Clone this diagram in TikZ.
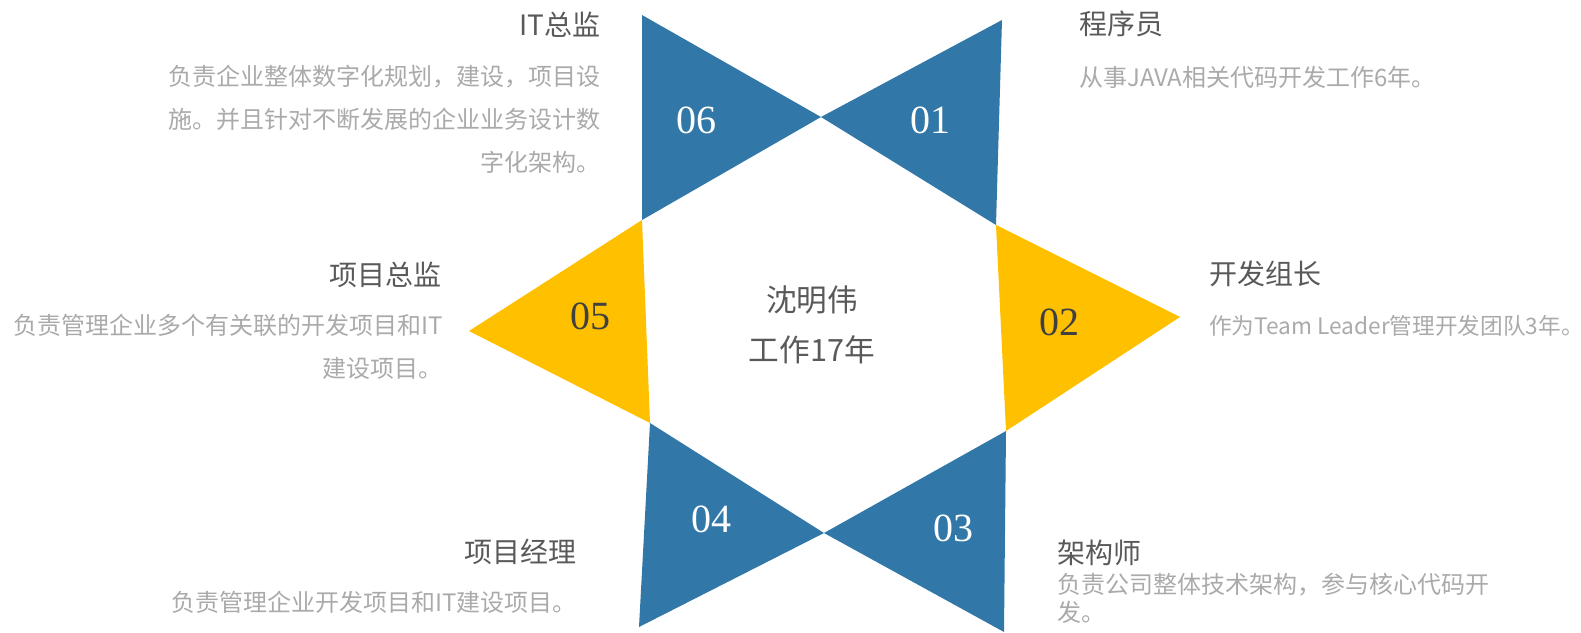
\documentclass[tikz,border=0pt]{standalone}
\usepackage{fontspec}
\setmainfont{Noto Sans CJK SC}
\newfontfamily\numfont{Liberation Serif}

\definecolor{starblue}{RGB}{49,119,168}
\definecolor{staryellow}{RGB}{255,192,0}
\definecolor{titlegray}{RGB}{89,89,89}
\definecolor{descgray}{RGB}{170,170,170}
\definecolor{numgray}{RGB}{64,64,64}

\tikzset{
  jobtitle/.style={text=titlegray, inner sep=0pt, font=\fontsize{21}{25}\selectfont},
  jobdesc/.style={text=descgray, inner sep=0pt, font=\fontsize{18}{32}\selectfont},
  jobnum/.style={inner sep=0pt, font=\numfont\fontsize{30}{30}\selectfont},
}

\begin{document}
\begin{tikzpicture}[x=0.75pt,y=-0.75pt]
\useasboundingbox (0,0) rectangle (1581,632);
% corners of the star
\coordinate (A) at (642,15);
\coordinate (B) at (1002,20);
\coordinate (U) at (821,117);
\coordinate (C) at (642,220);
\coordinate (D) at (996,225);
\coordinate (L) at (469,331);
\coordinate (R) at (1180,317);
\coordinate (E) at (650,423);
\coordinate (F) at (1006,431);
\coordinate (W) at (824,533);
\coordinate (G) at (639,627);
\coordinate (H) at (1004,632);

\fill[starblue] (A) -- (U) -- (C) -- cycle;
\fill[starblue] (B) -- (U) -- (D) -- cycle;
\fill[staryellow] (D) -- (R) -- (F) -- cycle;
\fill[starblue] (F) -- (W) -- (H) -- cycle;
\fill[starblue] (E) -- (W) -- (G) -- cycle;
\fill[staryellow] (C) -- (L) -- (E) -- cycle;

\node[jobnum, text=white] (n06) at (696,120) {06};
\node[jobnum, text=white] (n01) at (930,120) {01};
\node[jobnum, text=numgray] (n02) at (1059,322) {02};
\node[jobnum, text=white] (n03) at (953,528) {03};
\node[jobnum, text=white] (n04) at (711,519) {04};
\node[jobnum, text=numgray] (n05) at (590,316) {05};

\node[text=titlegray, inner sep=0pt, align=center, anchor=base,
  font=\fontsize{23}{37.5}\selectfont] (name) at (812,361) {沈明伟\\工作17年};

% roles
\node[jobtitle, anchor=base east] (t06) at (601,35) {IT总监};
\node[jobdesc, anchor=base east, align=right] (d06) at (601,171)
  {负责企业整体数字化规划，建设，项目设\\施。并且针对不断发展的企业业务设计数\\字化架构。};
\node[jobtitle, anchor=base west] (t01) at (1079,34) {程序员};
\node[jobdesc, anchor=base west] (d01) at (1079,86) {从事JAVA相关代码开发工作6年。};
\node[jobtitle, anchor=base west] (t02) at (1209,284) {开发组长};
\node[jobdesc, anchor=base west, font=\fontsize{17}{20}\selectfont] (d02) at (1209,334) {作为Team Leader管理开发团队3年。};
\node[jobtitle, anchor=base east] (t05) at (442,285) {项目总监};
\node[jobdesc, anchor=base east, align=right] (d05) at (443,377)
  {负责管理企业多个有关联的开发项目和IT\\建设项目。};
\node[jobtitle, anchor=base east] (t04) at (577,562) {项目经理};
\node[jobdesc, anchor=base east] (d04) at (577,611) {负责管理企业开发项目和IT建设项目。};
\node[jobtitle, anchor=base west] (t03) at (1057,563) {架构师};
\node[jobdesc, anchor=base west, align=left, font=\fontsize{18}{21}\selectfont] (d03) at (1057,621)
  {负责公司整体技术架构，参与核心代码开\\发。};
\end{tikzpicture}
\end{document}
